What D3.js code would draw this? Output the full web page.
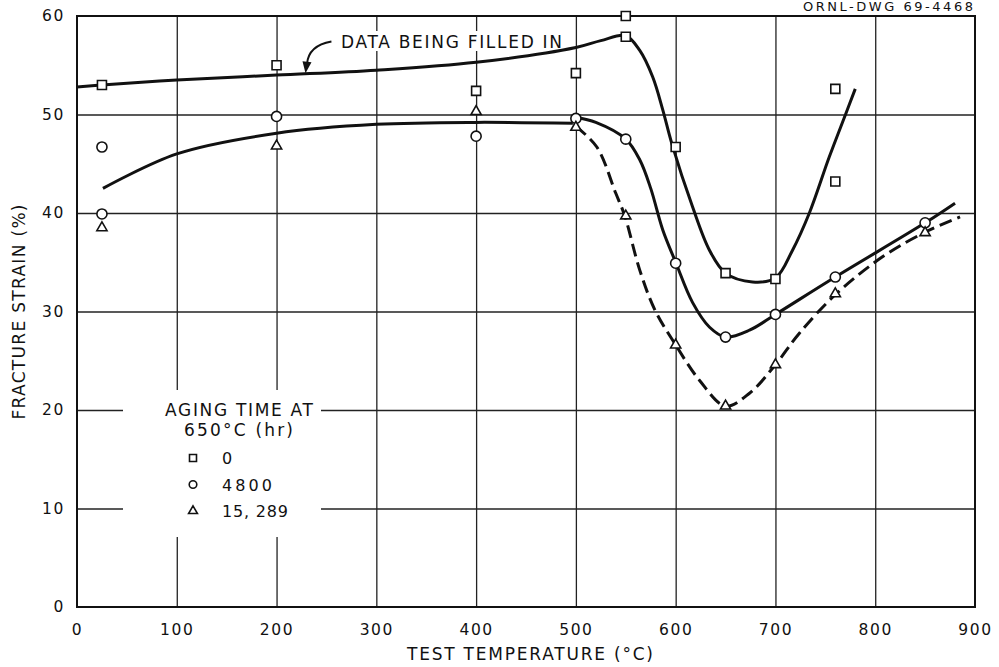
<!DOCTYPE html>
<html>
<head>
  <meta charset="utf-8">
  <title>Fracture strain vs test temperature</title>
  <style>
    body { margin: 0; background: #fff; }
    svg { display: block; background: #fff; }
    text { font-family: "DejaVu Sans", sans-serif; fill: #111; }
    .grid line { stroke: #222; stroke-width: 1.3; }
    .grid path { display: none; }
    .axis path, .axis line { display: none; }
    .axis text { font-size: 15.5px; letter-spacing: 1.6px; font-family: "DejaVu Sans", sans-serif; fill: #111; }
    .lbl { font-size: 17px; }
    .fit { fill: none; stroke: #111; stroke-width: 3; stroke-linejoin: round; }
    .mark { fill: #fff; stroke: #111; stroke-width: 1.6; }
  </style>
  <script src="https://cdnjs.cloudflare.com/ajax/libs/d3/7.8.5/d3.min.js"></script>
</head>
<body>
<script>
// measured points, aging time at 650 C
var temp0 = [25, 200, 400, 500, 550, 550, 600, 650, 700, 760, 760];
var strain0 = [53, 55, 52.4, 54.2, 60, 57.9, 46.7, 33.9, 33.3, 52.6, 43.2];

var temp4800 = [25, 25, 200, 400, 500, 550, 600, 650, 700, 760, 850];
var strain4800 = [46.7, 39.9, 49.8, 47.8, 49.6, 47.5, 34.9, 27.4, 29.7, 33.5, 39];

var temp15289 = [25, 200, 400, 500, 550, 600, 650, 700, 760, 850];
var strain15289 = [38.5, 46.8, 50.3, 48.7, 39.7, 26.6, 20.4, 24.6, 31.8, 38];

// hand drawn fit curves
var fit0x = [0, 25, 100, 200, 300, 400, 500, 525, 550, 564, 577, 587, 596, 617, 634, 650, 677, 700, 717, 734, 754, 771, 780];
var fit0y = [52.8, 53, 53.5, 54.0, 54.5, 55.3, 56.8, 57.5, 58, 56.5, 53.8, 50.5, 47.1, 40.6, 36.2, 33.9, 33.0, 33.4, 36.2, 40, 45.7, 50.2, 52.6];

var fitCommonx = [26, 100, 200, 300, 400, 497];
var fitCommony = [42.5, 46, 48.1, 49.0, 49.2, 49.1];

var fit4800x = [500, 520, 550, 564, 575, 587, 600, 617, 634, 650, 674, 700, 760, 850, 880];
var fit4800y = [49.7, 49.2, 47.5, 45.4, 42.5, 38.3, 35, 30.9, 28.4, 27.4, 28.1, 29.7, 33.5, 39, 41];

var fit15289x = [500, 521, 540, 549, 564, 579, 600, 624, 650, 674, 700, 724, 761, 808, 849, 885];
var fit15289y = [48.8, 46.7, 42.0, 39.7, 34.2, 30.2, 26.6, 23.0, 20.4, 21.7, 24.6, 27.8, 31.8, 35.6, 38, 39.6];

var xTicks = [0, 100, 200, 300, 400, 500, 600, 700, 800, 900];
var yTicks = [0, 10, 20, 30, 40, 50, 60];
var seriesNames = ["0", "4800", "15, 289"];

var width = 999, height = 667;

var svg = d3.select("body").append("svg")
  .attr("width", width)
  .attr("height", height);

var x = d3.scaleLinear().domain([0, 900]).range([77, 975]);
var y = d3.scaleLinear().domain([0, 60]).range([607, 16]);

function pts(xs, ys) {
  return xs.map(function(d, i) { return [d, ys[i]]; });
}

// grid
svg.append("g")
  .attr("class", "grid")
  .attr("transform", "translate(0," + y(0) + ")")
  .call(d3.axisBottom(x).tickValues(xTicks.slice(1, -1)).tickSize(-(y(0) - y(60))).tickFormat(""));

svg.append("g")
  .attr("class", "grid")
  .attr("transform", "translate(" + x(0) + ",0)")
  .call(d3.axisLeft(y).tickValues(yTicks.slice(1, -1)).tickSize(-(x(900) - x(0))).tickFormat(""));

// gap in the grid for the legend and label
svg.append("rect")
  .attr("x", 123).attr("y", 390)
  .attr("width", 198).attr("height", 147)
  .attr("fill", "#fff");

svg.append("rect")
  .attr("x", 337).attr("y", 31)
  .attr("width", 229).attr("height", 20)
  .attr("fill", "#fff");

// frame
svg.append("rect")
  .attr("x", x(0)).attr("y", y(60))
  .attr("width", x(900) - x(0)).attr("height", y(0) - y(60))
  .attr("fill", "none")
  .attr("stroke", "#111")
  .attr("stroke-width", 2);

// axes labels
svg.append("g")
  .attr("class", "axis")
  .attr("transform", "translate(0," + y(0) + ")")
  .call(d3.axisBottom(x).tickValues(xTicks).tickSize(0).tickPadding(17).tickFormat(d3.format("d")));

svg.append("g")
  .attr("class", "axis")
  .attr("transform", "translate(" + x(0) + ",0)")
  .call(d3.axisLeft(y).tickValues(yTicks).tickSize(0).tickPadding(12).tickFormat(d3.format("d")));

svg.append("text")
  .attr("class", "lbl")
  .attr("x", 530).attr("y", 660)
  .attr("text-anchor", "middle")
  .attr("textLength", 246).attr("lengthAdjust", "spacing")
  .text("TEST TEMPERATURE (°C)");

svg.append("text")
  .attr("class", "lbl")
  .attr("transform", "translate(25,312) rotate(-90)")
  .attr("text-anchor", "middle")
  .attr("textLength", 215).attr("lengthAdjust", "spacing")
  .text("FRACTURE STRAIN (%)");

svg.append("text")
  .attr("x", 973).attr("y", 11)
  .attr("text-anchor", "end")
  .style("font-size", "13px")
  .attr("textLength", 170).attr("lengthAdjust", "spacing")
  .text("ORNL-DWG 69-4468");

// curves
var line = d3.line()
  .x(function(d) { return x(d[0]); })
  .y(function(d) { return y(d[1]); })
  .curve(d3.curveCatmullRom.alpha(0.5));

svg.append("path").attr("class", "fit").attr("d", line(pts(fit0x, fit0y)));
svg.append("path").attr("class", "fit").attr("d", line(pts(fitCommonx, fitCommony)));
svg.append("path").attr("class", "fit").attr("d", line(pts(fit4800x, fit4800y)));
svg.append("path").attr("class", "fit")
  .attr("stroke-dasharray", "13,6")
  .attr("d", line(pts(fit15289x, fit15289y)));

// markers
var shapes = [
  {type: d3.symbolSquare, size: 81, pts: pts(temp0, strain0)},
  {type: d3.symbolCircle, size: 80, pts: pts(temp4800, strain4800)},
  {type: d3.symbolTriangle, size: 45, pts: pts(temp15289, strain15289)}
];

shapes.forEach(function(s) {
  svg.append("g").selectAll("path")
    .data(s.pts)
    .enter().append("path")
    .attr("class", "mark")
    .attr("transform", function(d) { return "translate(" + x(d[0]) + "," + y(d[1]) + ")"; })
    .attr("d", d3.symbol().type(s.type).size(s.size));
});

// annotation with arrow
svg.append("text")
  .attr("class", "lbl")
  .attr("x", 341).attr("y", 48)
  .attr("textLength", 221).attr("lengthAdjust", "spacing")
  .text("DATA BEING FILLED IN");

var a0 = [x(255), y(57.4)], a1 = [x(229), y(54.2)];
var ctl = [a1[0] + 3, a0[1] + 4];
svg.append("path")
  .attr("d", "M" + a0 + "Q" + ctl + " " + (a1[0] + 1.5) + "," + (a1[1] - 9))
  .attr("fill", "none").attr("stroke", "#111").attr("stroke-width", 2);
svg.append("path")
  .attr("d", "M" + a1 + "L" + (a1[0] - 3) + "," + (a1[1] - 12) + "L" + (a1[0] + 6) + "," + (a1[1] - 11) + "Z")
  .attr("fill", "#111");

// legend
var lg = svg.append("g").attr("class", "legend");
lg.append("text").attr("class", "lbl")
  .attr("x", 165).attr("y", 416)
  .attr("textLength", 148).attr("lengthAdjust", "spacing")
  .text("AGING TIME AT");
lg.append("text").attr("class", "lbl")
  .attr("x", 184).attr("y", 436)
  .attr("textLength", 109).attr("lengthAdjust", "spacing")
  .text("650°C (hr)");

var legendSize = [49, 45, 34];
var legendW = [13, 50, 66];
seriesNames.forEach(function(name, i) {
  var cy = 458 + i * 26.5;
  lg.append("path")
    .attr("class", "mark")
    .attr("transform", "translate(193," + cy + ")")
    .attr("d", d3.symbol().type(shapes[i].type).size(legendSize[i]));
  lg.append("text")
    .attr("x", 222).attr("y", cy + 6)
    .style("font-size", "16px")
    .attr("textLength", legendW[i]).attr("lengthAdjust", "spacing")
    .text(name);
});
</script>
</body>
</html>
